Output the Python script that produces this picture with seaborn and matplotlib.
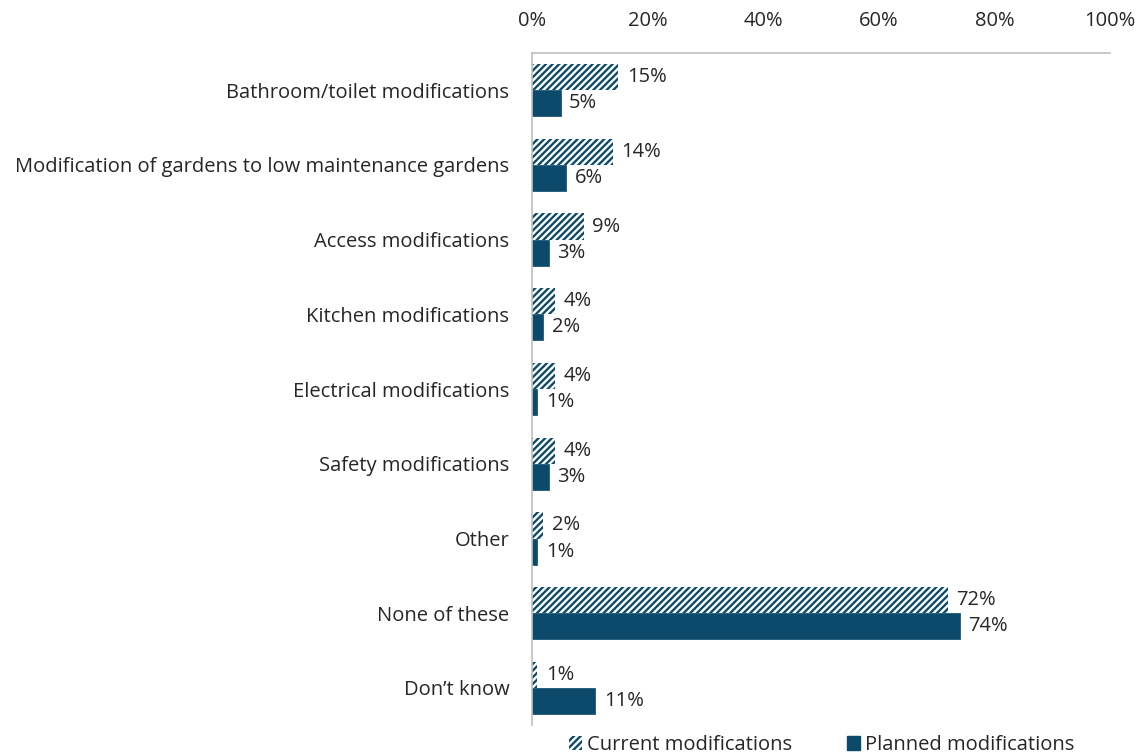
import matplotlib
matplotlib.use('Agg')
import matplotlib.pyplot as plt
import seaborn as sns
import pandas as pd
from matplotlib.patches import Patch

categories = ['Bathroom/toilet modifications',
              'Modification of gardens to low maintenance gardens',
              'Access modifications',
              'Kitchen modifications',
              'Electrical modifications',
              'Safety modifications',
              'Other',
              'None of these',
              'Don\u2019t know']
current = [15, 14, 9, 4, 4, 4, 2, 72, 1]
planned = [5, 6, 3, 2, 1, 3, 1, 74, 11]
series = ['Current modifications', 'Planned modifications']
xticks = [0, 20, 40, 60, 80, 100]

navy = '#0b4a6b'
txt = '#262626'
fs = 14.5

sns.set_style('white')
plt.rcParams['font.family'] = ['Open Sans', 'DejaVu Sans']
plt.rcParams['hatch.linewidth'] = 1.7

df = pd.DataFrame({
    'category': categories * 2,
    'value': current + planned,
    'series': [series[0]] * len(categories) + [series[1]] * len(categories),
})

fig = plt.figure(figsize=(11.41, 7.54), dpi=100)
ax = fig.add_axes([0.466, 0.038, 0.507, 0.892])

sns.barplot(data=df, x='value', y='category', hue='series', orient='h',
            palette=[navy, navy], width=0.7, legend=False, ax=ax,
            saturation=1)

# current bars: white diagonal stripes on navy
for p in ax.containers[0]:
    p.set_edgecolor('white')
    p.set_hatch('/////')
    p.set_linewidth(0)
for p in ax.containers[1]:
    p.set_edgecolor(navy)
    p.set_linewidth(0.5)

for c in ax.containers:
    ax.bar_label(c, fmt='{:.0f}%', padding=6, fontsize=fs, color=txt)

ax.set_xlim(0, 100)
ax.set_ylim(8.5, -0.5)
ax.set_xticks(xticks)
ax.set_xticklabels([f'{t}%' for t in xticks])
ax.xaxis.tick_top()
ax.tick_params(axis='x', length=0, pad=16, labelsize=fs, labelcolor=txt)
ax.tick_params(axis='y', length=0, pad=16, labelsize=fs, labelcolor=txt)
ax.set_xlabel('')
ax.set_ylabel('')

for s in ['right', 'bottom']:
    ax.spines[s].set_visible(False)
for s in ['top', 'left']:
    ax.spines[s].set_color('#bfbfbf')
    ax.spines[s].set_linewidth(1.2)

handles = [Patch(facecolor=navy, edgecolor='white', hatch='/////', linewidth=0),
           Patch(facecolor=navy, edgecolor=navy)]
fig.legend(handles, series, loc='center', bbox_to_anchor=(0.72, 0.012),
           ncol=2, frameon=False, fontsize=fs, handlelength=0.65,
           handleheight=0.65, handletextpad=0.25, columnspacing=2.7,
           labelcolor=txt)

fig.savefig('out.png', dpi=100)
